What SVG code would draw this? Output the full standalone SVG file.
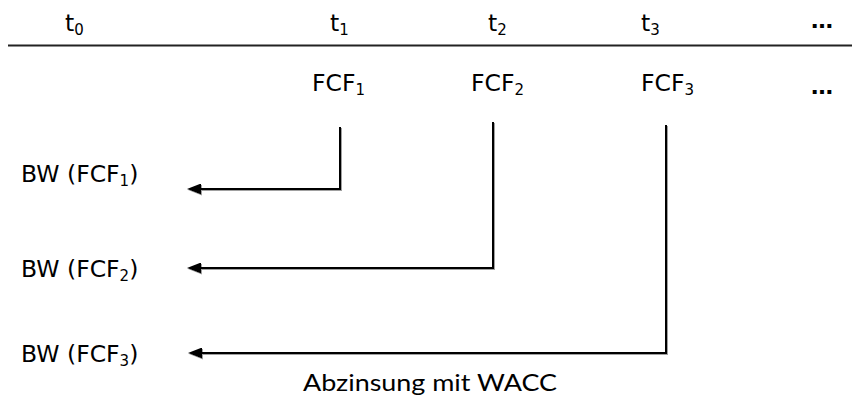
<svg xmlns="http://www.w3.org/2000/svg" width="859" height="403" viewBox="0 0 859 403">
<style>
.lbl{font-family:"DejaVu Sans","Liberation Sans",sans-serif;font-size:23.5px;fill:#000}
.sub{font-size:15px}
.dots{font-family:"DejaVu Sans",sans-serif;font-size:22px;font-weight:bold;fill:#000}
.cap{font-family:Lato,"Liberation Sans",sans-serif;font-size:23.5px;fill:#000}
.conn{fill:none;stroke:#000;stroke-width:2;filter:url(#sh)}
</style>
<defs>
<marker id="ah" viewBox="0 0 14 11" refX="0" refY="5.5" markerWidth="14" markerHeight="11" markerUnits="userSpaceOnUse" orient="auto">
<path d="M0,0 L14,5.5 L0,11 Z" fill="#000"/>
</marker>
<filter id="sh" filterUnits="userSpaceOnUse" x="0" y="0" width="859" height="403">
<feDropShadow dx="1" dy="1" stdDeviation="0.5" flood-color="#888" flood-opacity="0.8"/>
</filter>
</defs>
<g id="axis">
<line x1="8" y1="45.5" x2="852" y2="45.5" stroke="#222" stroke-width="2"/>
<text class="lbl" x="65" y="31">t<tspan class="sub" dy="4">0</tspan></text>
<text class="lbl" x="330" y="31">t<tspan class="sub" dy="4">1</tspan></text>
<text class="lbl" x="488" y="31">t<tspan class="sub" dy="4">2</tspan></text>
<text class="lbl" x="641" y="31">t<tspan class="sub" dy="4">3</tspan></text>
<text class="dots" x="811" y="28">…</text>
</g>
<g id="fcf1"><text class="lbl" x="312" y="91">FCF<tspan class="sub" dy="4">1</tspan></text></g>
<g id="fcf2"><text class="lbl" x="471" y="91">FCF<tspan class="sub" dy="4">2</tspan></text></g>
<g id="fcf3"><text class="lbl" x="641" y="91">FCF<tspan class="sub" dy="4">3</tspan></text></g>
<g id="fcfdots"><text class="dots" x="811" y="94">…</text></g>
<g id="bw1"><text class="lbl" x="21" y="182">BW (FCF<tspan class="sub" dy="4">1</tspan><tspan dy="-4">)</tspan></text></g>
<g id="bw2"><text class="lbl" x="21" y="277">BW (FCF<tspan class="sub" dy="4">2</tspan><tspan dy="-4">)</tspan></text></g>
<g id="bw3"><text class="lbl" x="21" y="362">BW (FCF<tspan class="sub" dy="4">3</tspan><tspan dy="-4">)</tspan></text></g>
<g id="connectors">
<path class="conn" d="M340,127 V189 H201" marker-end="url(#ah)"/>
<path class="conn" d="M493,122 V268 H201" marker-end="url(#ah)"/>
<path class="conn" d="M666,125 V353 H202" marker-end="url(#ah)"/>
</g>
<g id="caption"><text class="cap" x="303" y="391" textLength="254" lengthAdjust="spacingAndGlyphs">Abzinsung mit WACC</text></g>
</svg>
